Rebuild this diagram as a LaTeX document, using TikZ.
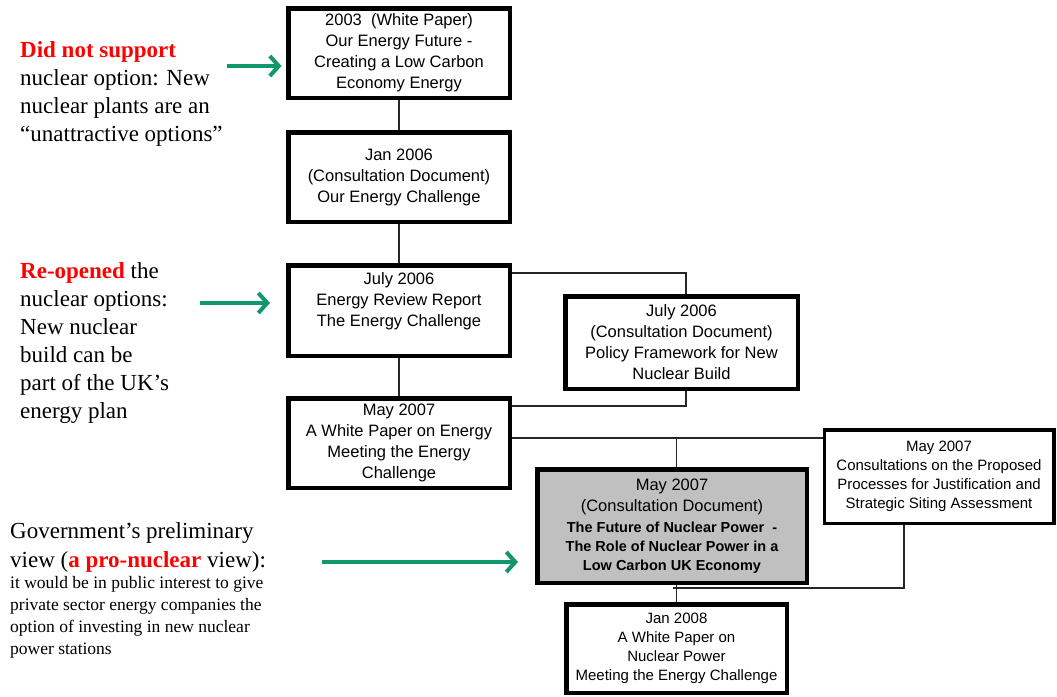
\documentclass[tikz,border=0pt]{standalone}
\usepackage{fontspec}
\setmainfont{Liberation Serif}
\newfontfamily\arialf{Liberation Sans}
\usetikzlibrary{arrows.meta,calc}
\definecolor{arrowgreen}{RGB}{18,150,108}
\definecolor{boxgray}{RGB}{192,192,192}
\definecolor{emred}{RGB}{255,0,0}
\newcommand\grbold{\bfseries\fontsize{14.5}{19}\selectfont}
\begin{document}
\begin{tikzpicture}[x=1pt,y=-1pt,
 box/.style={draw=black,line width=4.5pt,fill=white,inner sep=0pt,align=center,font=\arialf\fontsize{16.5}{21}\selectfont},
 smallbox/.style={box,font=\arialf\fontsize{15}{19}\selectfont},
 link/.style={draw=black!85,line width=1.2pt},
 garrow/.style={draw=arrowgreen,line width=4pt,-{Straight Barb[length=9pt,width=20pt]}},
 note/.style={anchor=north west,inner sep=0pt,align=left,font=\fontsize{23}{28}\selectfont}
]
\useasboundingbox (0,0) rectangle (1057,696);

\node[box,minimum width=221.5pt,minimum height=89.5pt] (b1) at (399,53) {2003\ \ (White Paper)\\Our Energy Future -\\Creating a Low Carbon\\Economy Energy};
\node[box,minimum width=221.5pt,minimum height=89.5pt] (b2) at (399,177) {Jan 2006\\(Consultation Document)\\Our Energy Challenge};
\node[box,minimum width=221.5pt,minimum height=90.5pt] (b3) at (399,310.5) {July 2006\\Energy Review Report\\The Energy Challenge\\\mbox{}};
\node[box,minimum width=232.5pt,minimum height=92.5pt] (b4) at (681.5,342.5) {July 2006\\(Consultation Document)\\Policy Framework for New\\Nuclear Build};
\node[box,minimum width=221.5pt,minimum height=89.5pt] (b5) at (399,443) {May 2007\\A White Paper on Energy\\Meeting the Energy\\Challenge};
\node[box,fill=boxgray,minimum width=269.5pt,minimum height=113.5pt] (b6) at (672,526) {May 2007\\(Consultation Document)\\{\grbold The Future of Nuclear Power\ \ -}\\[-2pt]{\grbold The Role of Nuclear Power in a}\\[-2pt]{\grbold Low Carbon UK Economy}};
\node[smallbox,line width=3.5pt,minimum width=229.5pt,minimum height=93.5pt] (b7) at (939,476.5) {May 2007\\Consultations on the Proposed\\Processes for Justification and\\Strategic Siting Assessment};
\node[smallbox,minimum width=220.5pt,minimum height=88.5pt] (b8) at (676.5,648.5) {Jan 2008\\A White Paper on\\Nuclear Power\\Meeting the Energy Challenge};

\draw[link] (b1.south) -- (b2.north);
\draw[link] (b2.south) -- (b3.north);
\draw[link] (b3.south) -- (b5.north);
\draw[link] ([yshift=-10pt]b3.north east) -| ([xshift=4.5pt]b4.north);
\draw[link] ([xshift=4.5pt]b4.south) |- ([yshift=-10pt]b5.north east);
\coordinate (h) at ([yshift=-42pt]b5.north east);
\draw[link] (h) -- (h -| b7.west);
\coordinate (v) at (b8.north);
\draw[link] (v |- h) -- (v |- b6.north);
\draw[link] (b6.south -| v) -- (v);
\draw[link] ([xshift=-35pt]b7.south) |- ([xshift=-4pt,yshift=14pt]b8.north);

\coordinate (a1) at (227,66);
\coordinate (a2) at (200,303);
\coordinate (a3) at (322,562);
\draw[garrow,shorten >=4.5pt] (a1) -- (a1 -| b1.west);
\draw[garrow,shorten >=16pt] (a2) -- (a2 -| b3.west);
\draw[garrow,shorten >=17pt] (a3) -- (a3 -| b6.west);

\node[note] (t1) at (20,41.5) {\textcolor{emred}{\bfseries Did not support}\\nuclear option: New\\nuclear plants are an\\“unattractive options”};
\node[note] (t2) at (20,262) {\textcolor{emred}{\bfseries Re-opened} the\\nuclear options:\\New nuclear\\build can be\\part of the UK’s\\energy plan};
\node[note,font=\fontsize{23}{29}\selectfont] (t3) at (10,522) {Government’s preliminary\\view (\textcolor{emred}{\bfseries a pro-nuclear} view):};
\node[note,font=\fontsize{17.5}{22}\selectfont] (t4) at (10,576) {it would be in public interest to give\\private sector energy companies the\\option of investing in new nuclear\\power stations};
\end{tikzpicture}
\end{document}
